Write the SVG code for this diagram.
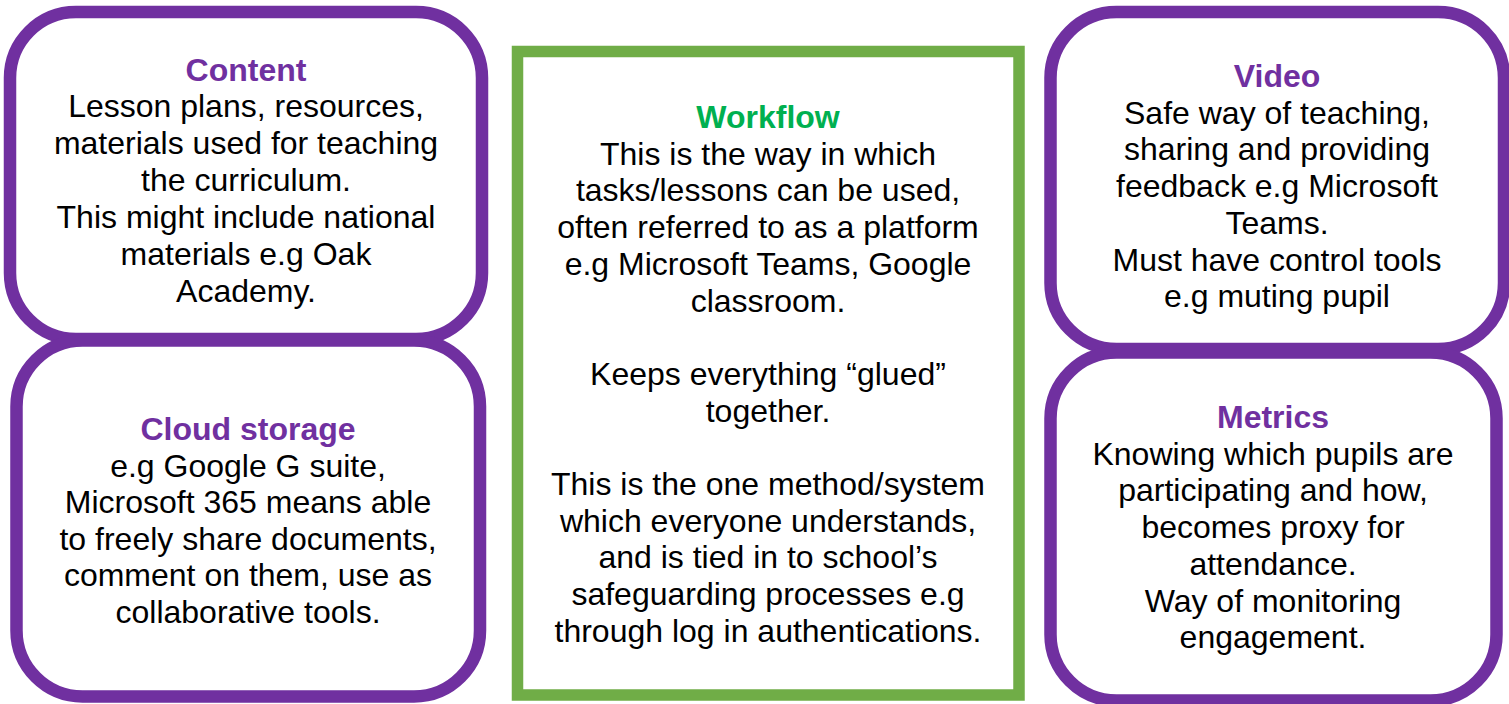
<svg xmlns="http://www.w3.org/2000/svg" width="1509" height="704" viewBox="0 0 1509 704">
<style>
.box{fill:#fff;stroke:#7030A0;stroke-width:12.5}
.wf{fill:#fff;stroke:#70AD47;stroke-width:11.5}
text{font-family:"Liberation Sans",Arial,sans-serif;font-size:32px;text-anchor:middle;fill:#000}
.t{font-weight:bold;fill:#7030A0}
.tg{font-weight:bold;fill:#00B050}
</style>
<rect width="1509" height="704" fill="#fff"/>
<g id="content">
<rect class="box" x="10" y="12" width="472" height="327" rx="66"/>
<text x="246" y="81" class="t">Content</text>
<text x="246" y="117">Lesson plans, resources,</text>
<text x="246" y="154">materials used for teaching</text>
<text x="246" y="191">the curriculum.</text>
<text x="246" y="228">This might include national</text>
<text x="246" y="265">materials e.g Oak</text>
<text x="246" y="302">Academy.</text>
</g>
<g id="cloud">
<rect class="box" x="16.5" y="340.5" width="463.5" height="356" rx="66"/>
<text x="248" y="440" class="t">Cloud storage</text>
<text x="248" y="476.5">e.g Google G suite,</text>
<text x="248" y="513">Microsoft 365 means able</text>
<text x="248" y="549.5">to freely share documents,</text>
<text x="248" y="586">comment on them, use as</text>
<text x="248" y="622.5">collaborative tools.</text>
</g>
<g id="workflow">
<rect class="wf" x="517.5" y="51.5" width="501.5" height="643.5"/>
<text x="768" y="128" class="tg">Workflow</text>
<text x="768" y="164.7">This is the way in which</text>
<text x="768" y="201.4">tasks/lessons can be used,</text>
<text x="768" y="238.1">often referred to as a platform</text>
<text x="768" y="274.8">e.g Microsoft Teams, Google</text>
<text x="768" y="311.5">classroom.</text>
<text x="768" y="384.9">Keeps everything “glued”</text>
<text x="768" y="421.6">together.</text>
<text x="768" y="495">This is the one method/system</text>
<text x="768" y="531.7">which everyone understands,</text>
<text x="768" y="568.4">and is tied in to school’s</text>
<text x="768" y="605.1">safeguarding processes e.g</text>
<text x="768" y="641.8">through log in authentications.</text>
</g>
<g id="video">
<rect class="box" x="1050.5" y="12" width="453.5" height="337" rx="66"/>
<text x="1277" y="87" class="t">Video</text>
<text x="1277" y="123.7">Safe way of teaching,</text>
<text x="1277" y="160.4">sharing and providing</text>
<text x="1277" y="197.1">feedback e.g Microsoft</text>
<text x="1277" y="233.8">Teams.</text>
<text x="1277" y="270.5">Must have control tools</text>
<text x="1277" y="307.2">e.g muting pupil</text>
</g>
<g id="metrics">
<rect class="box" x="1050.5" y="352.5" width="446" height="348" rx="66"/>
<text x="1273" y="428" class="t">Metrics</text>
<text x="1273" y="464.7">Knowing which pupils are</text>
<text x="1273" y="501.4">participating and how,</text>
<text x="1273" y="538.1">becomes proxy for</text>
<text x="1273" y="574.8">attendance.</text>
<text x="1273" y="611.5">Way of monitoring</text>
<text x="1273" y="648.2">engagement.</text>
</g>
<g id="connectors"></g>
</svg>
